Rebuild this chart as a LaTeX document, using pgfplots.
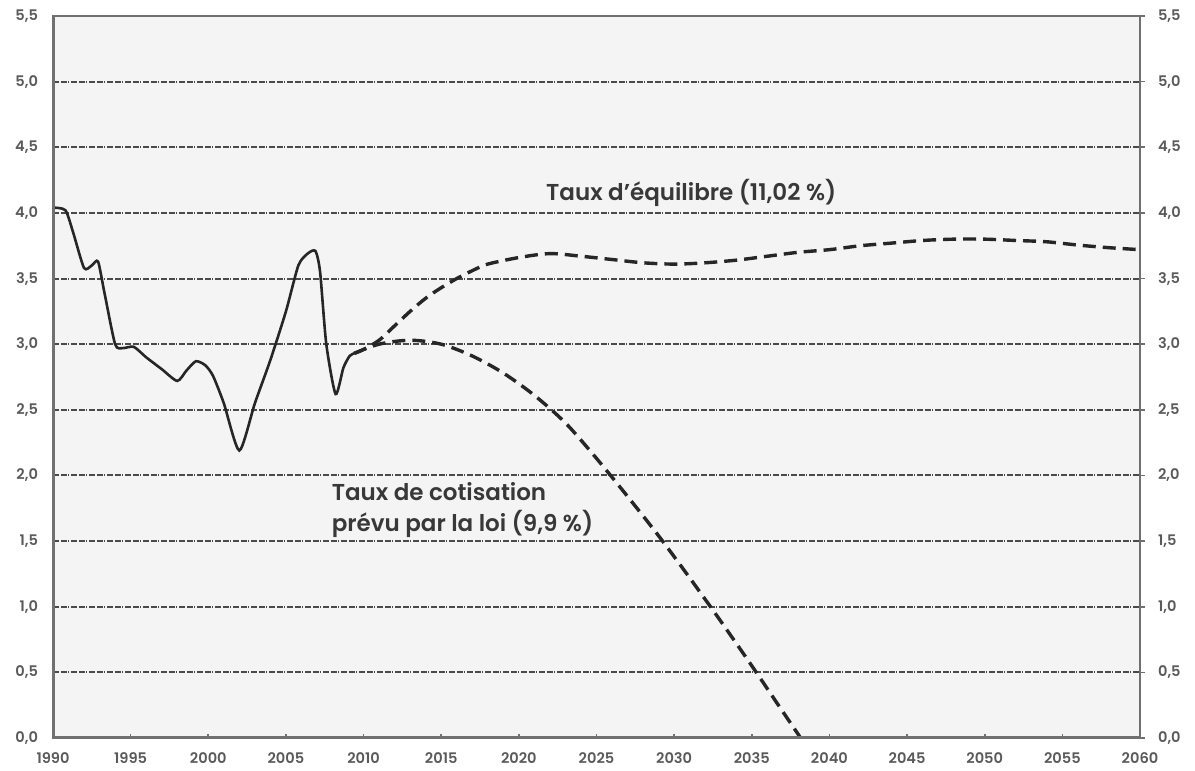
\documentclass[border=0pt]{standalone}
\usepackage{fontspec}
\setmainfont{Poppins}[BoldFont={Poppins SemiBold}]
\usepackage{pgfplots}
\pgfplotsset{compat=1.18}

\definecolor{gridc}{HTML}{4A4A4A}
\definecolor{axisc}{HTML}{707070}
\definecolor{labc}{HTML}{5A5A5A}
\definecolor{bgc}{HTML}{F4F4F4}

\pgfplotsset{
  base/.style={
    scale only axis, width=543.5pt, height=361pt,
    xmin=1990, xmax=2060, ymin=0, ymax=5.5,
    xtick={1990,1995,...,2060},
    ytick={0,0.5,...,5.5},
    /pgf/number format/assume math mode=true,
    ticklabel style={font=\bfseries\fontsize{7.3}{8}\selectfont, text=labc},
    yticklabel style={/pgf/number format/fixed, /pgf/number format/fixed zerofill,
      /pgf/number format/precision=1, /pgf/number format/use comma},
    xticklabel style={/pgf/number format/1000 sep={}},
  }
}

\begin{document}
\begin{tikzpicture}
\begin{axis}[base, name=ax,
  axis background/.style={fill=bgc},
  axis line style={draw=axisc, line width=1pt},
  ymajorgrids,
  grid style={draw=gridc, line width=1pt, dash pattern=on 3pt off 0.8pt on 3pt off 0.8pt on 0.6pt off 0.8pt},
  xtick pos=bottom, ytick pos=left,
  xtick align=inside, major tick length=2pt,
  ytick style={draw=none},
  xtick style={draw=axisc, line width=0.8pt},
  yticklabel style={xshift=-4pt},
  xticklabel style={yshift=-4pt},
]
% historique
\addplot[black!85, line width=1.3pt, smooth, tension=0.4] coordinates {
(1990.0,4.04)(1990.8,4.02)(1991.3,3.85)(1992.0,3.58)(1992.5,3.60)(1992.9,3.63)
(1993.3,3.40)(1994.0,3.00)(1994.5,2.97)(1995.2,2.98)(1996.0,2.90)(1997.0,2.81)
(1998.0,2.72)(1998.6,2.80)(1999.2,2.87)(1999.8,2.84)(2000.3,2.76)(2001.0,2.55)
(2002.0,2.19)(2003.0,2.55)(2004.0,2.88)(2005.0,3.25)(2005.8,3.60)(2006.4,3.69)
(2006.9,3.71)(2007.2,3.55)(2007.6,3.00)(2008.2,2.62)(2008.7,2.82)(2009.1,2.91)
(2009.4,2.93)
};
% taux d'equilibre
\addplot[black!85, line width=1.7pt, smooth, tension=0.5, dash pattern=on 6.5pt off 3.5pt] coordinates {
(2009.4,2.93)(2010.0,2.96)(2011.0,3.03)(2012.0,3.14)(2013.0,3.25)(2014.0,3.35)
(2015.0,3.43)(2016.0,3.50)(2017.0,3.56)(2018.0,3.61)(2020.0,3.66)(2022.0,3.69)
(2024.0,3.67)(2026.0,3.645)(2028.0,3.62)(2030.0,3.61)(2032.0,3.62)(2034.0,3.64)
(2036.0,3.67)(2038.0,3.70)(2040.0,3.72)(2042.0,3.75)(2044.0,3.77)(2046.0,3.79)
(2048.0,3.80)(2050.0,3.80)(2052.0,3.79)(2054.0,3.78)(2056.0,3.755)(2058.0,3.735)
(2060.0,3.72)
};
% taux de cotisation legal
\addplot[black!85, line width=1.7pt, smooth, tension=0.5, dash pattern=on 6.5pt off 3.5pt] coordinates {
(2009.4,2.93)(2011.0,3.00)(2013.0,3.03)(2015.0,3.00)(2017.0,2.91)(2019.0,2.78)
(2021.0,2.61)(2023.0,2.40)(2025.0,2.13)(2027.0,1.84)(2029.0,1.54)(2031.0,1.22)
(2033.0,0.89)(2035.0,0.55)(2037.0,0.20)(2038.15,0.00)
};
\node[text=black!78, font=\bfseries\fontsize{11.5}{13}\selectfont] at (axis cs:2031.1,4.15) {Taux d'équilibre (11,02 \%)};
\node[text=black!78, font=\bfseries\fontsize{11.5}{15.5}\selectfont, anchor=west, align=left] at (axis cs:2007.5,1.74) {Taux de cotisation\\prévu par la loi (9,9 \%)};
\draw[axisc, line width=1.6pt] (rel axis cs:0,1) -- (rel axis cs:0,0) -- (rel axis cs:1,0);
\end{axis}
\begin{axis}[base,
  axis x line=none, axis y line*=right,
  axis line style={draw=axisc, line width=1pt, -},
  ytick align=outside, major tick length=2.5pt,
  ytick style={draw=axisc, line width=0.8pt},
  yticklabel style={xshift=3pt},
]
\end{axis}
\pgfresetboundingbox
\path[use as bounding box] ([xshift=-26.5pt,yshift=-16.5pt]ax.south west) rectangle ([xshift=27.5pt,yshift=8pt]ax.north east);
\end{tikzpicture}
\end{document}
